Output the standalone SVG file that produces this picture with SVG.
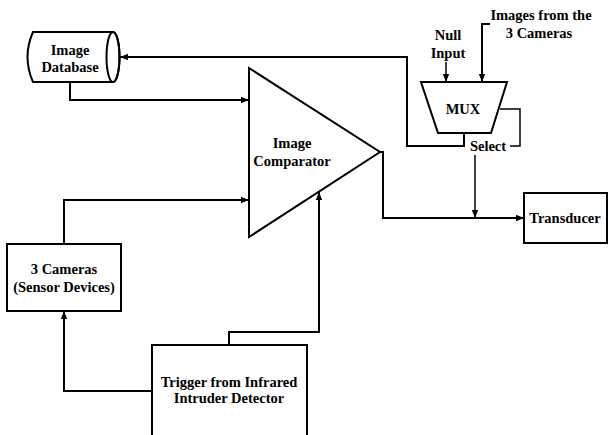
<svg xmlns="http://www.w3.org/2000/svg" width="610" height="435" viewBox="0 0 610 435">
<defs>
<marker id="ah" viewBox="0 0 10 10" refX="10" refY="5" markerWidth="8" markerHeight="8" markerUnits="userSpaceOnUse" orient="auto">
<path d="M0,1 L10,5 L0,9 Z" fill="#000"/>
</marker>
<style>
.s{fill:none;stroke:#000;stroke-width:2}
.n{fill:#fff;stroke:#000;stroke-width:2}
.c{fill:none;stroke:#000;stroke-width:2;marker-end:url(#ah)}
.c1{fill:none;stroke:#000;stroke-width:1.5;marker-end:url(#ah)}
.p{fill:none;stroke:#000;stroke-width:1.5}
text{font-family:"Liberation Serif","Times New Roman",serif;font-weight:bold;font-size:14.5px;fill:#000;text-anchor:middle}
</style>
</defs>
<rect width="610" height="435" fill="#fff"/>
<g id="connectors">
<path class="c" d="M464,134 V146 H407 V57 H120"/>
<path class="c" d="M70,82 V100 H249"/>
<path class="c" d="M64,244 V200 H249"/>
<path class="c" d="M152,391 H64 V311"/>
<path class="c" d="M229,345 V332 H319 V192"/>
<path class="c" d="M380,152 H383 V218 H524"/>
<path class="c1" d="M475,155 V218"/>
<path class="c1" d="M446,62 V82"/>
<path class="c" d="M490,24 H482 V82"/>
<path class="p" d="M500,109 H520 V146 H510"/>
</g>
<g id="image-database">
<path class="n" d="M33,32 H113 A6.5,25 0 0 1 113,82 H33 Q22,57 33,32 Z"/>
<ellipse class="s" cx="113" cy="57" rx="6.5" ry="25"/>
<text x="70" y="55">Image</text>
<text x="70" y="72">Database</text>
</g>
<g id="image-comparator">
<path class="n" d="M249,68 L380,152 L249,237 Z"/>
<text x="292" y="148">Image</text>
<text x="292" y="166">Comparator</text>
</g>
<g id="mux">
<path class="n" d="M421,82 H507 L491,133 H438 Z"/>
<text x="463" y="114">MUX</text>
</g>
<g id="null-input">
<text x="448" y="40">Null</text>
<text x="448" y="58">Input</text>
</g>
<g id="images-from-cameras">
<text x="541" y="20">Images from the</text>
<text x="539" y="38">3 Cameras</text>
</g>
<g id="select">
<text x="488" y="151">Select</text>
</g>
<g id="transducer">
<rect class="n" x="524" y="193" width="83" height="50"/>
<text x="565" y="223">Transducer</text>
</g>
<g id="cameras">
<rect class="n" x="7" y="244" width="114" height="67"/>
<text x="64" y="274">3 Cameras</text>
<text x="64" y="292">(Sensor Devices)</text>
</g>
<g id="trigger">
<rect class="n" x="152" y="345" width="155" height="100"/>
<text x="229" y="387">Trigger from Infrared</text>
<text x="229" y="403">Intruder Detector</text>
</g>
</svg>
